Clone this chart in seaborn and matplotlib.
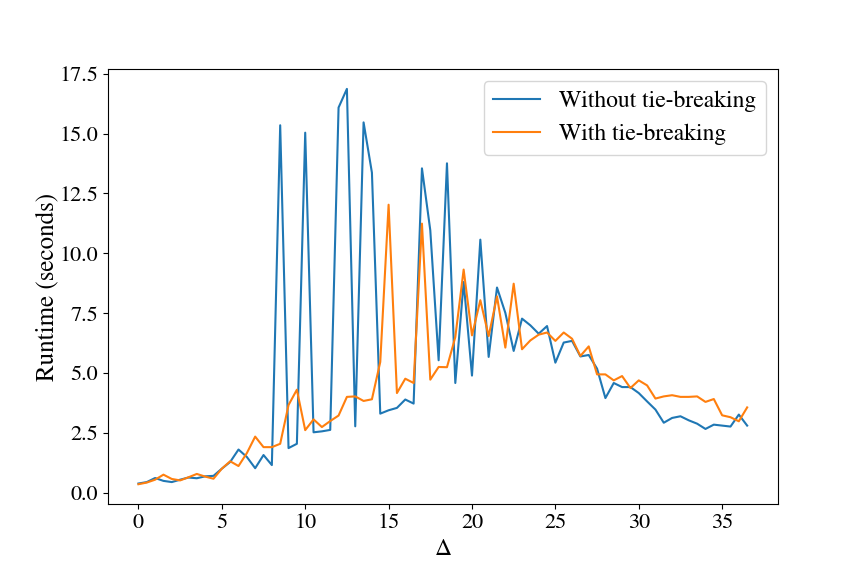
import numpy as np
import pandas as pd
import matplotlib
matplotlib.use("Agg")
import matplotlib.pyplot as plt
import seaborn as sns

# delta grid, 0 .. 36.5 in steps of 0.5
delta = np.arange(0, 37, 0.5)

without_tb = [0.38, 0.44, 0.61, 0.49, 0.44, 0.54, 0.63, 0.60, 0.68, 0.70,
              1.00, 1.28, 1.80, 1.49, 1.02, 1.57, 1.15, 15.35, 1.86, 2.04,
              15.04, 2.52, 2.56, 2.62, 16.09, 16.87, 2.77, 15.47, 13.37, 3.30,
              3.44, 3.54, 3.89, 3.72, 13.55, 10.96, 5.53, 13.76, 4.58, 8.80,
              4.89, 10.57, 5.67, 8.57, 7.51, 5.92, 7.27, 6.99, 6.64, 6.96,
              5.43, 6.27, 6.34, 5.69, 5.75, 5.18, 3.95, 4.58, 4.41, 4.41,
              4.16, 3.81, 3.47, 2.92, 3.12, 3.19, 3.02, 2.88, 2.66, 2.84,
              2.80, 2.76, 3.26, 2.80]

with_tb = [0.35, 0.42, 0.54, 0.75, 0.57, 0.51, 0.64, 0.78, 0.67, 0.58,
           1.00, 1.31, 1.11, 1.65, 2.34, 1.90, 1.90, 2.04, 3.66, 4.30,
           2.61, 3.06, 2.74, 2.99, 3.22, 4.00, 4.02, 3.83, 3.90, 5.46,
           12.03, 4.16, 4.76, 4.58, 11.24, 4.72, 5.25, 5.24, 6.50, 9.32,
           6.57, 8.04, 6.54, 8.20, 6.06, 8.73, 5.99, 6.36, 6.60, 6.69,
           6.34, 6.69, 6.43, 5.71, 6.11, 4.94, 4.94, 4.69, 4.87, 4.37,
           4.69, 4.48, 3.93, 4.02, 4.07, 4.00, 4.00, 4.02, 3.79, 3.91,
           3.23, 3.15, 2.98, 3.56]

plt.rcParams['font.family'] = ['STIXGeneral', 'DejaVu Serif']
plt.rcParams['mathtext.fontset'] = 'stix'

df = pd.DataFrame({
    "delta": np.concatenate([delta, delta]),
    "runtime": without_tb + with_tb,
    "method": ["Without tie-breaking"] * len(delta) + ["With tie-breaking"] * len(delta),
})

fig, ax = plt.subplots(figsize=(8.64, 5.76), dpi=100)
fig.subplots_adjust(left=0.125, right=0.9, top=0.88, bottom=0.125)

sns.lineplot(data=df, x="delta", y="runtime", hue="method",
             palette=["#1f77b4", "#ff7f0e"], ax=ax, linewidth=1.5)

ax.set_xlabel(r"$\Delta$", fontsize=17)
ax.set_ylabel("Runtime (seconds)", fontsize=18, labelpad=0)
ax.tick_params(labelsize=16)
ax.legend(fontsize=17, loc="upper right")

plt.savefig("out.png", dpi=100)
